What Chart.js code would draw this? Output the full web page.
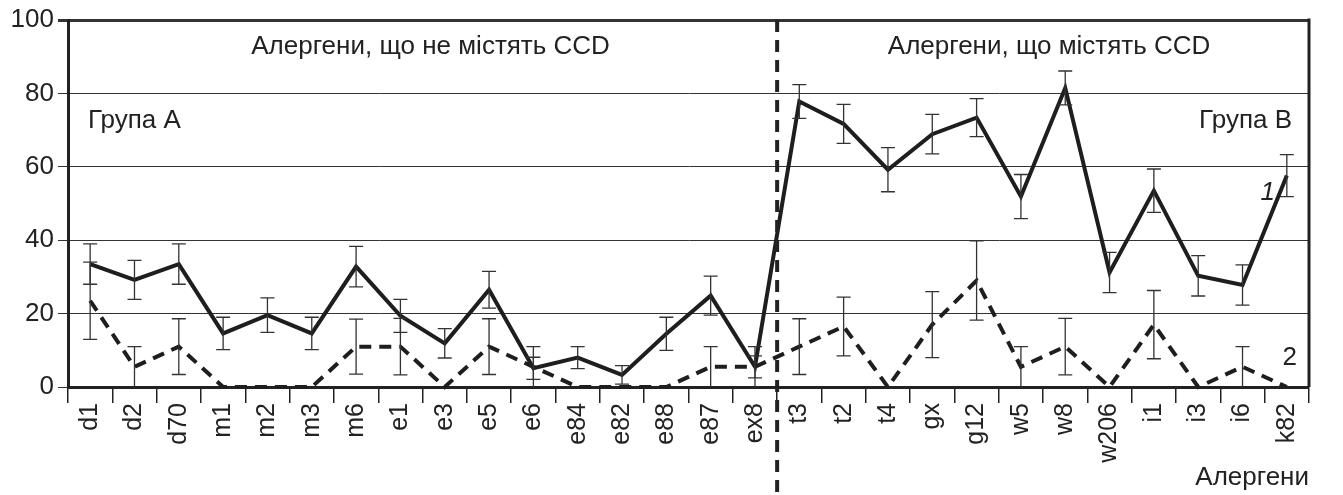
<!DOCTYPE html>
<html>
<head>
<meta charset="utf-8">
<script src="https://cdn.jsdelivr.net/npm/chart.js@4"></script>
<style>
  html, body { margin: 0; padding: 0; background: #fff; }
  #wrap { width: 1343px; height: 495px; }
</style>
</head>
<body>
<div id="wrap"><canvas id="chart" width="1343" height="495"></canvas></div>
<script>
// allergens, group A (without CCD) then group B (with CCD)
const allergens = ['d1', 'd2', 'd70', 'm1', 'm2', 'm3', 'm6', 'e1', 'e3', 'e5', 'e6', 'e84', 'e82', 'e88', 'e87', 'ex8',
                   't3', 't2', 't4', 'gx', 'g12', 'w5', 'w8', 'w206', 'i1', 'i3', 'i6', 'k82'];
const groupASize = 16;

// curve 1 (solid) and its error
const series1 = [33.5, 29.2, 33.5, 14.6, 19.6, 14.6, 32.8, 19.4, 11.9, 26.5, 5.1, 8.0, 3.3, 14.5, 24.9, 5.5,
                 77.8, 71.7, 59.2, 68.9, 73.4, 51.9, 81.5, 31.2, 53.5, 30.3, 27.8, 57.6];
const errors1 = [5.5, 5.3, 5.5, 4.4, 4.7, 4.4, 5.5, 4.5, 4.0, 5.0, 3.0, 3.0, 2.5, 4.5, 5.3, 3.0,
                 4.6, 5.3, 6.0, 5.4, 5.2, 6.0, 4.6, 5.5, 5.9, 5.5, 5.5, 5.7];

// curve 2 (dashed) and its error
const series2 = [23.5, 5.5, 11, 0, 0, 0, 11, 11, 0, 11, 5.5, 0, 0, 0, 5.5, 5.5,
                 11, 16.5, 0, 17, 29, 5.5, 11, 0, 17, 0, 5.5, 0];
const errors2 = [10.5, 5.5, 7.6, 0, 0, 0, 7.5, 7.7, 0, 7.6, 5.5, 0, 0, 0, 5.5, 5.5,
                 7.6, 8, 0, 9, 10.8, 5.5, 7.7, 0, 9.3, 0, 5.5, 0];

const yTicks = [0, 20, 40, 60, 80, 100];

const FONT = '"Liberation Sans", Arial, sans-serif';

const errorBars = {
  id: 'errorBars',
  afterDatasetsDraw(chart) {
    const { ctx, scales: { x, y } } = chart;
    ctx.save();
    ctx.strokeStyle = '#333';
    ctx.lineWidth = 1.3;
    chart.data.datasets.forEach(ds => {
      ds.errors.forEach((e, i) => {
        if (!e) return;
        const px = x.getPixelForValue(i);
        const top = y.getPixelForValue(ds.data[i] + e);
        const bot = y.getPixelForValue(Math.max(0, ds.data[i] - e));
        ctx.beginPath();
        ctx.moveTo(px, top); ctx.lineTo(px, bot);
        ctx.moveTo(px - 7, top); ctx.lineTo(px + 7, top);
        if (ds.data[i] - e > 0) { ctx.moveTo(px - 7, bot); ctx.lineTo(px + 7, bot); }
        ctx.stroke();
      });
    });
    ctx.restore();
  }
};

const decorations = {
  id: 'decorations',
  afterDraw(chart) {
    const { ctx, chartArea: a, scales: { x, y } } = chart;
    ctx.save();
    // right frame
    ctx.strokeStyle = '#222';
    ctx.lineWidth = 3;
    ctx.beginPath();
    ctx.moveTo(a.right, a.top - 1.5); ctx.lineTo(a.right, a.bottom);
    ctx.stroke();
    // group divider
    const dx = (x.getPixelForValue(groupASize - 1) + x.getPixelForValue(groupASize)) / 2;
    ctx.lineWidth = 4;
    ctx.setLineDash([12, 8]);
    ctx.beginPath();
    ctx.moveTo(dx, a.top); ctx.lineTo(dx, chart.height);
    ctx.stroke();
    ctx.setLineDash([]);
    // texts
    ctx.fillStyle = '#222';
    ctx.font = '26px ' + FONT;
    ctx.textBaseline = 'middle';
    ctx.textAlign = 'center';
    ctx.fillText('Алергени, що не містять CCD', (a.left + dx) / 2 + 8, a.top + 27);
    ctx.fillText('Алергени, що містять CCD', (dx + a.right) / 2 + 6, a.top + 27);
    ctx.textAlign = 'left';
    ctx.fillText('Група А', a.left + 20, y.getPixelForValue(72.5));
    ctx.textAlign = 'right';
    ctx.fillText('Група В', a.right - 17, y.getPixelForValue(72.5));
    ctx.font = 'italic 26px ' + FONT;
    ctx.fillText('1', a.right - 34, y.getPixelForValue(53));
    ctx.font = '26px ' + FONT;
    ctx.fillText('2', a.right - 12, y.getPixelForValue(8));
    ctx.restore();
  }
};

new Chart(document.getElementById('chart').getContext('2d'), {
  type: 'line',
  data: {
    labels: allergens,
    datasets: [{
      label: '1',
      data: series1,
      errors: errors1,
      borderColor: '#1e1e1e',
      borderWidth: 4,
      pointRadius: 0,
      tension: 0,
      fill: false
    }, {
      label: '2',
      data: series2,
      errors: errors2,
      borderColor: '#1e1e1e',
      borderWidth: 4,
      borderDash: [12, 8],
      pointRadius: 0,
      tension: 0,
      fill: false,
      clip: 4
    }]
  },
  options: {
    responsive: false,
    animation: false,
    devicePixelRatio: 1,
    layout: { padding: { top: 20, right: 34, left: 0, bottom: 0 } },
    plugins: { legend: { display: false }, tooltip: { enabled: false } },
    scales: {
      x: {
        type: 'category',
        offset: true,
        grid: { display: true, offset: true, drawOnChartArea: false, drawTicks: true, tickLength: 16, color: '#222', lineWidth: 1.5 },
        border: { display: true, color: '#222', width: 3 },
        ticks: { color: '#222', font: { family: FONT, size: 25 }, minRotation: 90, maxRotation: 90, autoSkip: false, padding: 0 },
        title: { display: true, text: 'Алергени', align: 'end', color: '#222', font: { family: FONT, size: 26 }, padding: { top: 0, bottom: 2 } },
        afterFit(scale) { scale.height = 108; }
      },
      y: {
        min: 0,
        max: 100,
        afterBuildTicks(scale) { scale.ticks = yTicks.map(v => ({ value: v })); },
        grid: {
          color: '#333',
          lineWidth: ctx => (ctx.tick && ctx.tick.value === 100 ? 3 : 1),
          tickLength: 10,
          tickColor: '#333'
        },
        border: { display: true, color: '#222', width: 3 },
        ticks: { color: '#222', font: { family: FONT, size: 26 }, padding: 4 },
        afterFit(scale) { scale.width = 68; }
      }
    }
  },
  plugins: [errorBars, decorations]
});
</script>
</body>
</html>
